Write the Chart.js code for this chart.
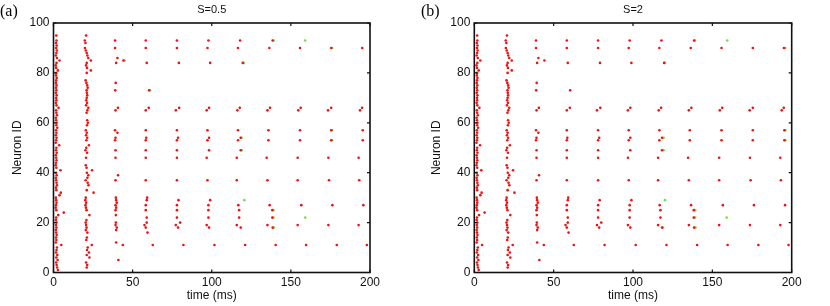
<!DOCTYPE html>
<html lang="en">
<head>
<meta charset="UTF-8">
<title>Raster S=0.5 / S=2</title>
<script src="https://cdn.jsdelivr.net/npm/chart.js"></script>
<style>
    body { margin: 0; background: #fff; }
    .paineis { display: flex; width: 830px; height: 306px; }
    canvas { display: block; }
</style>
</head>
<body>
<div class="paineis">
    <canvas id="rasterA" width="415" height="306"></canvas>
    <canvas id="rasterB" width="415" height="306"></canvas>
</div>
<script>
// eixos
var xTicks = [0, 50, 100, 150, 200];
var yTicks = [0, 20, 40, 60, 80, 100];
var titulos = ["S=0.5", "S=2"];
var letras = ["(a)", "(b)"];

// disparos [tempo (ms), neuron id], um array por volley
var volley1 = [[1.8,95],[1.9,93],[1.6,92],[2.0,91],[1.7,90],[2.1,89],[1.8,88],[1.5,87],[2.2,86],[3.8,85],[1.9,84],[1.4,83],[1.7,82],[2.8,81],[1.8,80],[1.6,79],[2.0,78],[1.7,77],[1.5,76],[1.9,75],[1.6,74],[1.8,73],[1.5,72],[2.0,71],[1.7,70],[1.8,69],[1.5,68],[1.9,67],[3.2,66],[1.6,65],[1.8,64],[2.2,63],[1.5,62],[1.7,61],[2.0,60],[1.8,59],[2.4,58],[1.6,57],[1.8,56],[1.5,55],[1.9,54],[1.7,53],[1.4,52],[3.6,51],[1.8,50],[1.6,49],[2.0,48],[1.5,47],[1.7,46],[1.9,45],[1.6,44],[1.4,43],[1.8,42],[4.4,41],[1.6,40],[2.0,39],[1.5,38],[1.7,37],[1.9,36],[2.2,35],[1.6,34],[1.8,33],[4.6,32],[3.8,31],[1.5,30],[1.7,29],[1.9,28],[1.6,27],[1.4,26],[1.8,25],[6.5,24],[3.0,23],[1.7,22],[1.5,21],[1.9,20],[1.6,19],[1.8,18],[1.5,17],[1.7,16],[2.0,15],[1.6,14],[1.8,13],[1.5,12],[4.9,11],[2.2,10],[1.9,9],[1.6,8],[2.4,7],[1.8,6],[2.6,5],[1.7,4],[2.0,3],[2.3,2],[2.8,1]];
var volley2 = [[20.6,95],[19.8,93],[20.2,92],[19.9,90],[20.4,89],[21.0,88],[21.4,87],[22.0,86],[23.6,85],[21.0,84],[20.6,83],[21.2,82],[23.6,81],[21.0,80],[20.3,77],[20.8,76],[21.3,75],[21.6,74],[20.9,73],[21.1,72],[21.3,71],[21.0,70],[20.7,69],[21.2,68],[20.6,67],[22.0,66],[21.4,65],[20.9,64],[21.3,61],[21.7,60],[21.2,59],[20.4,57],[21.0,56],[20.6,55],[21.3,54],[20.8,53],[22.4,51],[20.7,50],[20.2,49],[21.2,48],[20.6,46],[20.4,43],[20.9,42],[24.4,41],[21.1,40],[22.0,39],[21.4,38],[20.3,37],[21.6,36],[22.1,35],[21.0,33],[25.3,32],[20.4,30],[20.1,29],[20.6,28],[20.2,27],[20.5,26],[20.9,25],[22.7,23],[20.8,21],[20.3,20],[20.6,19],[20.9,18],[20.4,17],[21.4,16],[21.1,14],[20.7,13],[24.2,11],[21.6,10],[21.2,9],[22.4,8],[21.0,7],[22.7,6],[20.6,4],[21.3,3],[21.0,2]];
var volley3 = [[38.9,93],[38.9,90],[40.4,86],[44.2,85],[39.6,84],[39.3,76],[39.0,73],[40.7,66],[39.2,65],[38.9,57],[40.4,56],[39.2,54],[38.9,53],[39.2,49],[39.2,46],[40.8,39],[39.2,37],[39.4,30],[39.6,29],[40.0,28],[39.2,27],[39.6,26],[39.2,25],[39.4,23],[39.4,20],[39.2,19],[40.0,18],[39.6,17],[39.6,12],[43.8,11],[41.0,5]];
var volley4 = [[58.3,93],[58.3,90],[58.9,84],[60.4,73],[60.2,66],[58.3,65],[58.3,57],[58.6,54],[58.3,53],[58.3,49],[58.3,46],[58.3,37],[59.2,30],[58.9,29],[58.3,27],[58.3,25],[58.9,22],[58.9,20],[57.5,19],[58.3,18],[59.4,16],[62.7,11]];
var volley5 = [[78.0,93],[78.0,90],[79.2,84],[79.4,66],[77.3,65],[78.0,57],[78.7,54],[78.0,53],[78.0,49],[78.0,46],[78.0,37],[79.0,29],[78.0,27],[78.0,25],[78.0,22],[80.0,20],[77.3,19],[78.7,18],[82.1,11]];
var volley6 = [[97.9,93],[97.3,90],[99.0,84],[98.3,66],[96.8,65],[97.3,57],[98.3,54],[97.3,53],[98.3,49],[96.8,46],[97.3,37],[99.0,29],[97.9,27],[97.9,25],[97.9,22],[96.8,19],[98.3,18],[101.7,11]];
var volley7 = [[117.9,93],[116.6,90],[119.6,84],[117.7,66],[116.2,65],[116.6,57],[118.3,54],[116.6,53],[118.3,49],[115.8,46],[115.8,37],[116.8,27],[117.3,25],[117.3,22],[115.8,19],[118.3,18],[121.1,11]];
var volley8 = [[138.5,93],[136.4,90],[136.8,66],[135.2,65],[135.8,57],[135.8,53],[134.7,46],[135.2,37],[136.6,27],[138.3,25],[138.3,22],[135.2,19],[138.5,18],[140.4,11]];
var volley9 = [[155.8,90],[156.2,66],[154.7,65],[155.8,57],[155.8,53],[154.3,46],[154.3,37],[156.6,27],[154.3,19],[159.6,11]];
var volley10 = [[175.5,90],[175.5,66],[173.5,65],[175.5,57],[175.5,53],[173.7,46],[174.1,37],[176.2,27],[173.7,19],[179.0,11]];
var volley11 = [[195.1,90],[195.0,66],[193.7,65],[195.4,57],[195.4,53],[192.8,46],[193.2,37],[195.8,27],[192.8,19],[198.0,11]];

// disparos verdes (outra populacao), diferentes em cada painel
var verdesA = [[159.0,93],[120.6,29],[159.1,22],[44.9,85],[61.0,73],[120.2,84],[118.9,54],[118.9,49],[139.1,93],[139.0,25],[139.0,22],[139.2,18],[176.1,90],[176.1,57],[176.1,53]];
var verdesB = [[159.4,93],[120.2,29],[159.0,22],[139.1,93],[196.0,90],[120.2,84],[119.3,49],[119.3,54],[139.2,25],[139.2,22],[139.4,18],[118.9,18],[196.0,57],[196.0,53]];

var vermelhos = [].concat(volley1, volley2, volley3, volley4, volley5, volley6, volley7, volley8, volley9, volley10, volley11);

function paraPontos(lista) {
    return lista.map(function (p) { return { x: p[0], y: p[1] }; });
}

// moldura com ticks para dentro nos 4 lados + letra do painel
var caixa = {
    id: 'caixa',
    afterDraw: function (chart, args, opts) {
        var ctx = chart.ctx, a = chart.chartArea, sx = chart.scales.x, sy = chart.scales.y;
        ctx.save();
        ctx.strokeStyle = '#111';
        ctx.lineWidth = 1.2;
        ctx.beginPath();
        sx.ticks.forEach(function (t) {
            var px = sx.getPixelForValue(t.value);
            ctx.moveTo(px, a.bottom); ctx.lineTo(px, a.bottom - 3);
            ctx.moveTo(px, a.top); ctx.lineTo(px, a.top + 3);
        });
        sy.ticks.forEach(function (t) {
            var py = sy.getPixelForValue(t.value);
            ctx.moveTo(a.left, py); ctx.lineTo(a.left + 3, py);
            ctx.moveTo(a.right, py); ctx.lineTo(a.right - 3, py);
        });
        ctx.stroke();
        ctx.lineWidth = 1.6;
        ctx.strokeRect(a.left, a.top, a.right - a.left, a.bottom - a.top);
        ctx.fillStyle = '#000';
        ctx.font = '16px "Liberation Serif", "Times New Roman", serif';
        ctx.textBaseline = 'alphabetic';
        ctx.fillText(opts.letra, opts.lx, 16);
        ctx.restore();
    }
};

function criaRaster(idCanvas, i, verdes, yLarg, yTitPad, padDir) {
    var ctx = document.getElementById(idCanvas).getContext("2d");
    var config = {
        type: 'scatter',
        data: {
            datasets: [
                {
                    label: 'vermelho',
                    data: paraPontos(vermelhos),
                    backgroundColor: '#ee1111',
                    borderWidth: 0,
                    pointRadius: 1.3
                },
                {
                    label: 'verde',
                    data: paraPontos(verdes),
                    backgroundColor: '#6ee04c',
                    borderWidth: 0,
                    pointRadius: 1.3
                }
            ]
        },
        options: {
            responsive: false,
            animation: false,
            devicePixelRatio: 1,
            layout: { padding: { left: 0, right: padDir, top: 0, bottom: 0 } },
            plugins: {
                legend: { display: false },
                tooltip: { enabled: false },
                title: {
                    display: true,
                    text: titulos[i],
                    fullSize: false,
                    color: '#111',
                    font: { family: 'Arial, "Liberation Sans", sans-serif', size: 11, weight: 'normal' },
                    padding: { top: 3, bottom: 6.8 }
                },
                caixa: { letra: letras[i], lx: i === 0 ? 0 : 6 }
            },
            scales: {
                x: {
                    type: 'linear',
                    min: 0,
                    max: 200,
                    afterBuildTicks: function (s) { s.ticks = xTicks.map(function (v) { return { value: v }; }); },
                    afterFit: function (s) { s.height = 33.5; },
                    grid: { display: false, drawTicks: false },
                    border: { display: false },
                    ticks: { color: '#111', padding: 3, font: { family: 'Arial, "Liberation Sans", sans-serif', size: 12 } },
                    title: {
                        display: true,
                        text: 'time (ms)',
                        color: '#111',
                        font: { family: 'Arial, "Liberation Sans", sans-serif', size: 12 },
                        padding: { top: 0, bottom: 3 }
                    }
                },
                y: {
                    type: 'linear',
                    min: 0,
                    max: 100,
                    afterBuildTicks: function (s) { s.ticks = yTicks.map(function (v) { return { value: v }; }); },
                    afterFit: function (s) { s.width = yLarg; },
                    grid: { display: false, drawTicks: false },
                    border: { display: false },
                    ticks: { color: '#111', padding: 4, font: { family: 'Arial, "Liberation Sans", sans-serif', size: 12 } },
                    title: {
                        display: true,
                        text: 'Neuron ID',
                        color: '#111',
                        font: { family: 'Arial, "Liberation Sans", sans-serif', size: 12 },
                        padding: { top: yTitPad, bottom: 0 }
                    }
                }
            }
        },
        plugins: [caixa]
    };
    return new Chart(ctx, config);
}

var graficoA = criaRaster("rasterA", 0, verdesA, 53.5, 10, 45);
var graficoB = criaRaster("rasterB", 1, verdesB, 59.3, 14.5, 38.3);
</script>
</body>
</html>
